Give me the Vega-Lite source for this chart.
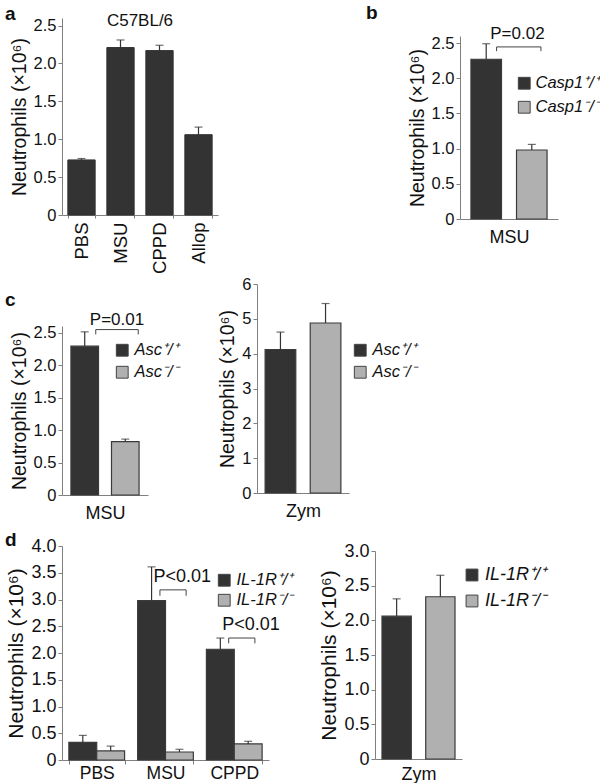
{
  "$schema": "https://vega.github.io/schema/vega-lite/v6.json",
  "padding": {"left": 5, "top": 3, "right": 2, "bottom": 5},
  "background": "white",
  "config": {
    "view": {"stroke": null},
    "font": "Liberation Sans",
    "axis": {"domainColor": "#808080", "tickColor": "#808080", "labelColor": "#111", "titleColor": "#111", "labelFont": "Liberation Sans", "titleFont": "Liberation Sans", "titleFontWeight": "normal", "grid": false, "tickSize": 4, "labelFontSize": 16.5, "titleFontSize": 19.5, "labelPadding": 2, "labelOverlap": false},
    "legend": {"title": null, "symbolType": "square", "symbolSize": 140, "symbolStrokeColor": "#444", "symbolStrokeWidth": 1, "labelFontStyle": "italic", "labelFont": "Liberation Sans", "labelFontSize": 16, "labelColor": "#111", "padding": 0, "labelOffset": 4, "orient": "none"},
    "title": {"font": "Liberation Sans", "fontWeight": "bold", "fontSize": 19, "anchor": "start", "frame": "group", "color": "#111"}
  },
  "datasets": {
    "a": [
      {"cat": "PBS", "value": 0.727, "err": 0.745},
      {"cat": "MSU", "value": 2.21, "err": 2.31},
      {"cat": "CPPD", "value": 2.17, "err": 2.24},
      {"cat": "Allop", "value": 1.06, "err": 1.16}
    ],
    "b": [
      {"geno": "Casp1⁺/⁺", "value": 2.27, "err": 2.49},
      {"geno": "Casp1⁻/⁻", "value": 0.98, "err": 1.06}
    ],
    "bP": [{"g1": "Casp1⁺/⁺", "g2": "Casp1⁻/⁻", "y": 2.445, "y2": 2.385, "label": "P=0.02"}],
    "c1": [
      {"geno": "Asc⁺/⁺", "value": 2.29, "err": 2.51},
      {"geno": "Asc⁻/⁻", "value": 0.82, "err": 0.86}
    ],
    "c1P": [{"g1": "Asc⁺/⁺", "g2": "Asc⁻/⁻", "y": 2.545, "y2": 2.47, "label": "P=0.01"}],
    "c2": [
      {"geno": "Asc⁺/⁺", "value": 4.12, "err": 4.62},
      {"geno": "Asc⁻/⁻", "value": 4.88, "err": 5.44}
    ],
    "d1": [
      {"cat": "PBS", "geno": "IL-1R⁺/⁺", "value": 0.33, "err": 0.46},
      {"cat": "PBS", "geno": "IL-1R⁻/⁻", "value": 0.17, "err": 0.26},
      {"cat": "MSU", "geno": "IL-1R⁺/⁺", "value": 2.98, "err": 3.61},
      {"cat": "MSU", "geno": "IL-1R⁻/⁻", "value": 0.15, "err": 0.2},
      {"cat": "CPPD", "geno": "IL-1R⁺/⁺", "value": 2.07, "err": 2.28},
      {"cat": "CPPD", "geno": "IL-1R⁻/⁻", "value": 0.3, "err": 0.35}
    ],
    "d1P": [
      {"cat": "MSU", "y": 3.18, "y2": 3.07, "label": "P<0.01"},
      {"cat": "CPPD", "y": 2.28, "y2": 2.18, "label": "P<0.01"}
    ],
    "d2": [
      {"geno": "IL-1R⁺/⁺", "value": 2.06, "err": 2.31},
      {"geno": "IL-1R⁻/⁻", "value": 2.34, "err": 2.65}
    ]
  },
  "bounds": "flush",
  "spacing": 266,
  "resolve": {"scale": {"color": "independent"}, "legend": {"color": "independent"}},
  "vconcat": [
    {
      "bounds": "flush",
      "spacing": 242,
      "resolve": {"scale": {"color": "independent"}, "legend": {"color": "independent"}},
      "hconcat": [
        {
          "width": 156, "height": 197,
          "title": {"text": "a", "dx": -57, "offset": -12},
          "data": {"name": "a"},
          "layer": [
            {
              "mark": {"type": "bar", "fill": "#333333", "stroke": "#333333", "strokeWidth": 1},
              "encoding": {
                "x": {"field": "cat", "type": "nominal", "scale": {"domain": ["PBS", "MSU", "CPPD", "Allop"], "paddingInner": 0.3, "paddingOuter": 0.15}, "axis": {"title": null, "labelAngle": -90, "tickBand": "extent", "tickSize": 3, "labelPadding": 4, "labelFontSize": 18.5}},
                "y": {"field": "value", "type": "quantitative", "scale": {"domain": [0, 2.5]}, "axis": {"title": "Neutrophils (×10⁶)", "values": [0, 0.5, 1, 1.5, 2, 2.5], "tickCount": 20, "labelOverlap": false, "labelExpr": "datum.value == 0 ? '0' : format(datum.value, '.1f')"}}
              }
            },
            {
              "mark": {"type": "rule", "color": "#333333", "strokeWidth": 1.2},
              "encoding": {"x": {"field": "cat", "type": "nominal"}, "y": {"field": "value", "type": "quantitative"}, "y2": {"field": "err"}}
            },
            {
              "mark": {"type": "tick", "orient": "horizontal", "size": 8, "thickness": 1.2, "color": "#333333"},
              "encoding": {"x": {"field": "cat", "type": "nominal"}, "y": {"field": "err", "type": "quantitative"}}
            },
            {
              "data": {"values": [{"label": "C57BL/6", "yv": 2.5}]},
              "mark": {"type": "text", "fontSize": 17, "baseline": "middle", "dy": -5, "color": "#111"},
              "encoding": {"y": {"field": "yv", "type": "quantitative"}, "text": {"field": "label"}}
            }
          ]
        },
        {
          "bounds": "flush",
          "spacing": 17,
          "vconcat": [
            {"width": 1, "height": 1, "data": {"values": [{}]}, "mark": {"type": "rule", "opacity": 0}, "encoding": {}},
            {
              "width": 98, "height": 183,
              "title": {"text": "b", "dx": -94, "offset": 2},
              "data": {"name": "b"},
              "layer": [
                {
                  "mark": {"type": "bar", "stroke": "#3a3a3a", "strokeWidth": 1.2},
                  "encoding": {
                    "x": {"field": "geno", "type": "nominal", "scale": {"domain": ["Casp1⁺/⁺", "Casp1⁻/⁻"], "paddingInner": 0.33, "paddingOuter": 0.24}, "axis": {"title": "MSU", "labels": false, "ticks": false, "titlePadding": 9, "titleFontSize": 18}},
                    "y": {"field": "value", "type": "quantitative", "scale": {"domain": [0, 2.5]}, "axis": {"title": "Neutrophils (×10⁶)", "values": [0, 0.5, 1, 1.5, 2, 2.5], "tickCount": 20, "labelOverlap": false, "labelExpr": "datum.value == 0 ? '0' : format(datum.value, '.1f')"}},
                    "color": {"field": "geno", "type": "nominal", "scale": {"domain": ["Casp1⁺/⁺", "Casp1⁻/⁻"], "range": ["#333333", "#b0b0b0"]}, "legend": {"legendX": 56, "legendY": 57, "rowPadding": 7, "labelFontSize": 16.5, "labelOffset": 3}}
                  }
                },
                {
                  "mark": {"type": "rule", "color": "#333333", "strokeWidth": 1.2},
                  "encoding": {"x": {"field": "geno", "type": "nominal"}, "y": {"field": "value", "type": "quantitative"}, "y2": {"field": "err"}}
                },
                {
                  "mark": {"type": "tick", "orient": "horizontal", "size": 8, "thickness": 1.2, "color": "#333333"},
                  "encoding": {"x": {"field": "geno", "type": "nominal"}, "y": {"field": "err", "type": "quantitative"}}
                },
                {
                  "data": {"name": "bP"},
                  "mark": {"type": "rule", "color": "#444", "strokeWidth": 1},
                  "encoding": {"x": {"field": "g1", "type": "nominal", "bandPosition": 0.84}, "x2": {"field": "g2", "bandPosition": 0.8}, "y": {"field": "y", "type": "quantitative"}}
                },
                {
                  "data": {"name": "bP"},
                  "mark": {"type": "rule", "color": "#444", "strokeWidth": 1},
                  "encoding": {"x": {"field": "g1", "type": "nominal", "bandPosition": 0.84}, "y": {"field": "y", "type": "quantitative"}, "y2": {"field": "y2"}}
                },
                {
                  "data": {"name": "bP"},
                  "mark": {"type": "rule", "color": "#444", "strokeWidth": 1},
                  "encoding": {"x": {"field": "g2", "type": "nominal", "bandPosition": 0.8}, "y": {"field": "y", "type": "quantitative"}, "y2": {"field": "y2"}}
                },
                {
                  "data": {"name": "bP"},
                  "mark": {"type": "text", "fontSize": 17, "baseline": "bottom", "dy": -4, "align": "center", "color": "#111"},
                  "encoding": {"x": {"field": "g2", "type": "nominal", "bandPosition": 0.03}, "y": {"field": "y", "type": "quantitative"}, "text": {"field": "label"}}
                }
              ]
            }
          ]
        }
      ]
    },
    {
      "bounds": "flush",
      "spacing": 262,
      "resolve": {"scale": {"color": "independent"}, "legend": {"color": "independent"}},
      "vconcat": [
        {
          "bounds": "flush",
          "spacing": 195,
          "resolve": {"scale": {"color": "independent"}, "legend": {"color": "independent"}},
          "hconcat": [
            {
              "bounds": "flush",
              "spacing": 41,
              "vconcat": [
                {"width": 1, "height": 1, "data": {"values": [{}]}, "mark": {"type": "rule", "opacity": 0}, "encoding": {}},
                {
                  "width": 86, "height": 169,
                  "title": {"text": "c", "dx": -57, "offset": 1},
                  "data": {"name": "c1"},
                  "layer": [
                    {
                      "mark": {"type": "bar", "stroke": "#3a3a3a", "strokeWidth": 1.2},
                      "encoding": {
                        "x": {"field": "geno", "type": "nominal", "scale": {"domain": ["Asc⁺/⁺", "Asc⁻/⁻"], "paddingInner": 0.32, "paddingOuter": 0.22}, "axis": {"title": "MSU", "labels": false, "ticks": false, "titlePadding": 9, "titleFontSize": 18}},
                        "y": {"field": "value", "type": "quantitative", "scale": {"domain": [0, 2.5]}, "axis": {"title": "Neutrophils (×10⁶)", "values": [0, 0.5, 1, 1.5, 2, 2.5], "tickCount": 20, "labelOverlap": false, "labelExpr": "datum.value == 0 ? '0' : format(datum.value, '.1f')"}},
                        "color": {"field": "geno", "type": "nominal", "scale": {"domain": ["Asc⁺/⁺", "Asc⁻/⁻"], "range": ["#333333", "#b0b0b0"]}, "legend": {"legendX": 52, "legendY": 58, "rowPadding": 5, "labelFontSize": 16.5}}
                      }
                    },
                    {
                      "mark": {"type": "rule", "color": "#333333", "strokeWidth": 1.2},
                      "encoding": {"x": {"field": "geno", "type": "nominal"}, "y": {"field": "value", "type": "quantitative"}, "y2": {"field": "err"}}
                    },
                    {
                      "mark": {"type": "tick", "orient": "horizontal", "size": 8, "thickness": 1.2, "color": "#333333"},
                      "encoding": {"x": {"field": "geno", "type": "nominal"}, "y": {"field": "err", "type": "quantitative"}}
                    },
                    {
                      "data": {"name": "c1P"},
                      "mark": {"type": "rule", "color": "#444", "strokeWidth": 1},
                      "encoding": {"x": {"field": "g1", "type": "nominal", "bandPosition": 0.9}, "x2": {"field": "g2", "bandPosition": 0.97}, "y": {"field": "y", "type": "quantitative"}}
                    },
                    {
                      "data": {"name": "c1P"},
                      "mark": {"type": "rule", "color": "#444", "strokeWidth": 1},
                      "encoding": {"x": {"field": "g1", "type": "nominal", "bandPosition": 0.9}, "y": {"field": "y", "type": "quantitative"}, "y2": {"field": "y2"}}
                    },
                    {
                      "data": {"name": "c1P"},
                      "mark": {"type": "rule", "color": "#444", "strokeWidth": 1},
                      "encoding": {"x": {"field": "g2", "type": "nominal", "bandPosition": 0.97}, "y": {"field": "y", "type": "quantitative"}, "y2": {"field": "y2"}}
                    },
                    {
                      "data": {"name": "c1P"},
                      "mark": {"type": "text", "fontSize": 17, "baseline": "bottom", "dy": -1, "align": "center", "color": "#111"},
                      "encoding": {"x": {"field": "g2", "type": "nominal", "bandPosition": 0.2}, "y": {"field": "y", "type": "quantitative"}, "text": {"field": "label"}}
                    }
                  ]
                }
              ]
            },
            {
              "width": 92, "height": 209,
              "data": {"name": "c2"},
              "layer": [
                {
                  "mark": {"type": "bar", "stroke": "#3a3a3a", "strokeWidth": 1.2},
                  "encoding": {
                    "x": {"field": "geno", "type": "nominal", "scale": {"domain": ["Asc⁺/⁺", "Asc⁻/⁻"], "paddingInner": 0.32, "paddingOuter": 0.18}, "axis": {"title": "Zym", "labels": false, "ticks": false, "titlePadding": 9, "titleFontSize": 18}},
                    "y": {"field": "value", "type": "quantitative", "scale": {"domain": [0, 6]}, "axis": {"title": "Neutrophils (×10⁶)", "values": [0, 1, 2, 3, 4, 5, 6], "tickCount": 20, "labelOverlap": false, "format": "d"}},
                    "color": {"field": "geno", "type": "nominal", "scale": {"domain": ["Asc⁺/⁺", "Asc⁻/⁻"], "range": ["#333333", "#b0b0b0"]}, "legend": {"legendX": 95, "legendY": 58, "rowPadding": 5, "labelFontSize": 16.5}}
                  }
                },
                {
                  "mark": {"type": "rule", "color": "#333333", "strokeWidth": 1.2},
                  "encoding": {"x": {"field": "geno", "type": "nominal"}, "y": {"field": "value", "type": "quantitative"}, "y2": {"field": "err"}}
                },
                {
                  "mark": {"type": "tick", "orient": "horizontal", "size": 8, "thickness": 1.2, "color": "#333333"},
                  "encoding": {"x": {"field": "geno", "type": "nominal"}, "y": {"field": "err", "type": "quantitative"}}
                }
              ]
            }
          ]
        },
        {
          "bounds": "flush",
          "spacing": 106,
          "resolve": {"scale": {"color": "independent"}, "legend": {"color": "independent"}},
          "hconcat": [
            {
              "width": 207, "height": 214,
              "title": {"text": "d", "dx": -57, "offset": -13},
              "data": {"name": "d1"},
              "layer": [
                {
                  "mark": {"type": "bar", "stroke": "#3a3a3a", "strokeWidth": 1.2},
                  "encoding": {
                    "x": {"field": "cat", "type": "nominal", "scale": {"domain": ["PBS", "MSU", "CPPD"], "paddingInner": 0.19, "paddingOuter": 0.1}, "axis": {"title": null, "labelAngle": 0, "tickBand": "extent", "tickSize": 4, "labelPadding": 0, "labelFontSize": 17.5}},
                    "xOffset": {"field": "geno", "type": "nominal", "scale": {"domain": ["IL-1R⁺/⁺", "IL-1R⁻/⁻"]}},
                    "y": {"field": "value", "type": "quantitative", "scale": {"domain": [0, 4]}, "axis": {"title": "Neutrophils (×10⁶)", "values": [0, 0.5, 1, 1.5, 2, 2.5, 3, 3.5, 4], "tickCount": 20, "labelOverlap": false, "labelExpr": "datum.value == 0 ? '0' : format(datum.value, '.1f')", "labelFontSize": 18, "titleFontSize": 21}},
                    "color": {"field": "geno", "type": "nominal", "scale": {"domain": ["IL-1R⁺/⁺", "IL-1R⁻/⁻"], "range": ["#333333", "#b0b0b0"]}, "legend": {"legendX": 154, "legendY": 26, "rowPadding": 3, "labelFontSize": 16.5}}
                  }
                },
                {
                  "mark": {"type": "rule", "color": "#333333", "strokeWidth": 1.2},
                  "encoding": {"x": {"field": "cat", "type": "nominal"}, "xOffset": {"field": "geno", "type": "nominal"}, "y": {"field": "value", "type": "quantitative"}, "y2": {"field": "err"}}
                },
                {
                  "mark": {"type": "tick", "orient": "horizontal", "size": 8, "thickness": 1.2, "color": "#333333"},
                  "encoding": {"x": {"field": "cat", "type": "nominal"}, "xOffset": {"field": "geno", "type": "nominal"}, "y": {"field": "err", "type": "quantitative"}}
                },
                {
                  "data": {"name": "d1P"},
                  "mark": {"type": "rule", "color": "#444", "strokeWidth": 1},
                  "encoding": {"x": {"field": "cat", "type": "nominal", "bandPosition": 0.4}, "x2": {"field": "cat", "bandPosition": 0.87}, "y": {"field": "y", "type": "quantitative"}}
                },
                {
                  "data": {"name": "d1P"},
                  "mark": {"type": "rule", "color": "#444", "strokeWidth": 1},
                  "encoding": {"x": {"field": "cat", "type": "nominal", "bandPosition": 0.4}, "y": {"field": "y", "type": "quantitative"}, "y2": {"field": "y2"}}
                },
                {
                  "data": {"name": "d1P"},
                  "mark": {"type": "rule", "color": "#444", "strokeWidth": 1},
                  "encoding": {"x": {"field": "cat", "type": "nominal", "bandPosition": 0.87}, "y": {"field": "y", "type": "quantitative"}, "y2": {"field": "y2"}}
                },
                {
                  "data": {"name": "d1P"},
                  "mark": {"type": "text", "fontSize": 18, "baseline": "bottom", "dy": -4, "align": "center", "color": "#111"},
                  "encoding": {"x": {"field": "cat", "type": "nominal", "bandPosition": 0.8}, "y": {"field": "y", "type": "quantitative"}, "text": {"field": "label"}}
                }
              ]
            },
            {
              "bounds": "flush",
              "spacing": 4,
              "vconcat": [
                {"width": 1, "height": 1, "data": {"values": [{}]}, "mark": {"type": "rule", "opacity": 0}, "encoding": {}},
                {
                  "width": 87, "height": 208,
                  "data": {"name": "d2"},
                  "layer": [
                    {
                      "mark": {"type": "bar", "stroke": "#3a3a3a", "strokeWidth": 1.2},
                      "encoding": {
                        "x": {"field": "geno", "type": "nominal", "scale": {"domain": ["IL-1R⁺/⁺", "IL-1R⁻/⁻"], "paddingInner": 0.33, "paddingOuter": 0.16}, "axis": {"title": "Zym", "labels": false, "ticks": false, "titlePadding": 6, "titleFontSize": 18}},
                        "y": {"field": "value", "type": "quantitative", "scale": {"domain": [0, 3]}, "axis": {"title": "Neutrophils (×10⁶)", "values": [0, 0.5, 1, 1.5, 2, 2.5, 3], "tickCount": 20, "labelOverlap": false, "labelExpr": "datum.value == 0 ? '0' : format(datum.value, '.1f')", "labelFontSize": 18, "titleFontSize": 21}},
                        "color": {"field": "geno", "type": "nominal", "scale": {"domain": ["IL-1R⁺/⁺", "IL-1R⁻/⁻"], "range": ["#333333", "#b0b0b0"]}, "legend": {"legendX": 88, "legendY": 20, "rowPadding": 8, "labelFontSize": 18}}
                      }
                    },
                    {
                      "mark": {"type": "rule", "color": "#333333", "strokeWidth": 1.2},
                      "encoding": {"x": {"field": "geno", "type": "nominal"}, "y": {"field": "value", "type": "quantitative"}, "y2": {"field": "err"}}
                    },
                    {
                      "mark": {"type": "tick", "orient": "horizontal", "size": 8, "thickness": 1.2, "color": "#333333"},
                      "encoding": {"x": {"field": "geno", "type": "nominal"}, "y": {"field": "err", "type": "quantitative"}}
                    }
                  ]
                }
              ]
            }
          ]
        }
      ]
    }
  ]
}
